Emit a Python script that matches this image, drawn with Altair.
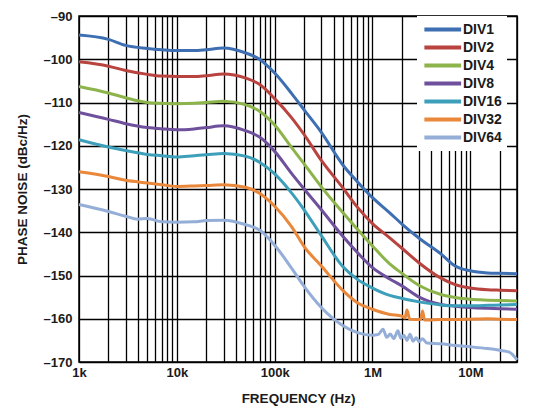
import altair as alt
import pandas as pd

# ---- data ----
FREQ = [1e3, 2e3, 3e3, 5e3, 7e3, 1e4, 1.5e4, 2e4, 3e4, 5e4, 7e4,
        1e5, 1.5e5, 2e5, 3e5, 5e5, 7e5, 1e6, 1.5e6, 2e6, 3e6, 5e6, 7e6,
        1e7, 1.5e7, 2e7, 3e7]

DIV1 = [-94.4, -95.4, -96.8, -97.5, -97.8, -98.0, -98.0, -97.8, -97.4, -98.5, -100.0,
        -103.2, -108.0, -111.7, -116.9, -124.5, -128.3, -132.0, -135.5, -138.1, -141.4,
        -145.0, -147.8, -148.9, -149.4, -149.5, -149.6]
DIV2 = [-100.6, -101.6, -102.6, -103.5, -103.9, -104.0, -104.0, -103.8, -103.4, -104.3, -105.8,
        -109.1, -113.6, -117.4, -123.4, -129.8, -134.2, -138.0, -141.3, -143.7, -147.1,
        -150.6, -152.1, -152.9, -153.3, -153.4, -153.5]
DIV4 = [-106.3, -107.8, -108.9, -110.0, -110.2, -110.3, -110.2, -110.0, -109.7, -110.5, -112.0,
        -115.2, -120.5, -124.2, -129.5, -135.5, -139.3, -143.2, -147.3, -149.5, -152.3,
        -154.4, -155.1, -155.5, -155.7, -155.8, -155.9]
DIV8 = [-112.3, -113.9, -114.9, -115.8, -116.1, -116.3, -116.1, -115.8, -115.4, -116.5, -118.0,
        -121.3, -126.5, -130.0, -134.8, -141.0, -144.7, -148.2, -150.8, -152.4, -155.0,
        -156.7, -157.1, -157.4, -157.6, -157.7, -157.8]
DIV16 = [-118.6, -120.3, -121.1, -122.0, -122.3, -122.6, -122.3, -122.1, -121.8, -122.4, -123.8,
         -126.5, -131.0, -134.8, -140.8, -148.0, -150.9, -152.9, -154.6, -155.3, -156.1,
         -156.8, -157.0, -157.0, -156.9, -156.8, -156.7]

FREQ_32 = [1e3, 2e3, 3e3, 5e3, 7e3, 1e4, 1.5e4, 2e4, 3e4, 5e4, 7e4,
           1e5, 1.5e5, 2e5, 3e5, 5e5, 7e5, 1e6, 1.5e6, 2e6, 2.15e6, 2.25e6, 2.4e6,
           3.1e6, 3.25e6, 3.4e6, 3.7e6, 5e6, 7e6, 1e7, 1.5e7, 2e7, 3e7]
DIV32 = [-126.0, -127.1, -128.0, -128.6, -129.0, -129.4, -129.3, -129.2, -129.0, -129.6, -131.0,
         -134.0, -138.8, -143.3, -147.8, -153.5, -156.3, -157.8, -159.0, -159.4, -159.8, -158.0, -160.1,
         -160.2, -158.2, -160.3, -160.3, -160.2, -160.2, -160.1, -160.0, -160.1, -160.2]

FREQ_64 = [1e3, 2e3, 3e3, 4e3, 5e3, 7e3, 1e4, 1.5e4, 2e4, 3e4, 5e4, 7e4,
           1e5, 1.5e5, 2e5, 3e5, 5e5, 7e5, 1e6, 1.15e6, 1.28e6, 1.4e6, 1.52e6, 1.65e6,
           1.82e6, 1.95e6, 2.1e6, 2.25e6, 2.42e6, 2.6e6, 2.8e6, 3e6, 3.24e6, 3.6e6,
           5e6, 7e6, 1e7, 1.5e7, 2e7, 2.5e7, 3e7]
DIV64 = [-133.6, -135.2, -136.3, -137.0, -136.8, -137.6, -137.7, -137.6, -137.3, -137.2, -138.2, -139.5,
         -143.0, -148.4, -152.5, -157.4, -161.6, -163.2, -163.8, -163.6, -162.4, -164.3, -163.5, -164.6,
         -162.8, -164.5, -163.8, -165.0, -163.6, -165.2, -164.4, -165.3, -164.6, -165.6,
         -165.8, -166.2, -166.5, -166.9, -167.3, -167.7, -169.5]

SERIES = ["DIV1", "DIV2", "DIV4", "DIV8", "DIV16", "DIV32", "DIV64"]
COLORS = ["#3d6fb2", "#b8433f", "#8db44a", "#6e509c", "#3d9fba", "#e9883b", "#94aed8"]

Y_TICKS = [-170, -160, -150, -140, -130, -120, -110, -100, -90]
X_GRID = [m * 10 ** e for e in range(3, 8) for m in range(1, 10) if m * 10 ** e <= 3e7]

rows = []
for name, fr, vals in [("DIV1", FREQ, DIV1), ("DIV2", FREQ, DIV2), ("DIV4", FREQ, DIV4),
                       ("DIV8", FREQ, DIV8), ("DIV16", FREQ, DIV16),
                       ("DIV32", FREQ_32, DIV32), ("DIV64", FREQ_64, DIV64)]:
    for f, v in zip(fr, vals):
        rows.append({"series": name, "freq": f, "pn": v})
df = pd.DataFrame(rows)

FONT = "Liberation Sans"

x_labels = ("datum.value == 1000 ? '1k' : datum.value == 10000 ? '10k' : "
            "datum.value == 100000 ? '100k' : datum.value == 1000000 ? '1M' : "
            "datum.value == 10000000 ? '10M' : ''")

chart = alt.Chart(df).mark_line(strokeWidth=3, interpolate="monotone").encode(
    x=alt.X("freq:Q",
            scale=alt.Scale(type="log", domain=[1000, 30000000], nice=False),
            axis=alt.Axis(values=X_GRID, labelExpr=x_labels, grid=True, ticks=False,
                          domain=False, labelOverlap=False, labelFlush=False,
                          labelFont=FONT, labelFontSize=13, labelFontWeight="bold",
                          labelColor="#1a1a1a", labelPadding=4,
                          title="FREQUENCY (Hz)", titleFont=FONT, titleFontSize=13.5,
                          titleFontWeight="bold", titleColor="#1a1a1a",
                          titleY=36, titleBaseline="middle")),
    y=alt.Y("pn:Q",
            scale=alt.Scale(domain=[-170, -90], nice=False, zero=False),
            axis=alt.Axis(values=Y_TICKS, labelExpr="'\u2013' + abs(datum.value)",
                          grid=True, ticks=False, domain=False,
                          labelFont=FONT, labelFontSize=13, labelFontWeight="bold",
                          labelColor="#1a1a1a", labelPadding=7,
                          title="PHASE NOISE (dBc/Hz)", titleFont=FONT, titleFontSize=13.5,
                          titleFontWeight="bold", titleColor="#1a1a1a",
                          titleX=-57, titleBaseline="middle")),
    color=alt.Color("series:N",
                    scale=alt.Scale(domain=SERIES, range=COLORS),
                    legend=alt.Legend(title=None, orient="none", legendX=338, legendY=0,
                                      fillColor="white", padding=5,
                                      symbolType="M-1,0H5", symbolSize=150,
                                      symbolStrokeWidth=4, labelOffset=24,
                                      labelFont=FONT, labelFontSize=14,
                                      labelFontWeight="bold", labelColor="#1a1a1a",
                                      rowPadding=1)),
    order=alt.Order("series:N"),
).properties(
    width=438, height=346,
    autosize=alt.AutoSizeParams(type="none"),
    padding={"left": 71, "top": 8, "right": 10, "bottom": 48},
).configure_axis(
    gridColor="#000000", gridWidth=1.3, gridOpacity=1,
).configure_view(
    stroke="#000000", strokeWidth=1.5,
)

chart.save("out.html", embed_options={"renderer": "svg", "actions": False})
